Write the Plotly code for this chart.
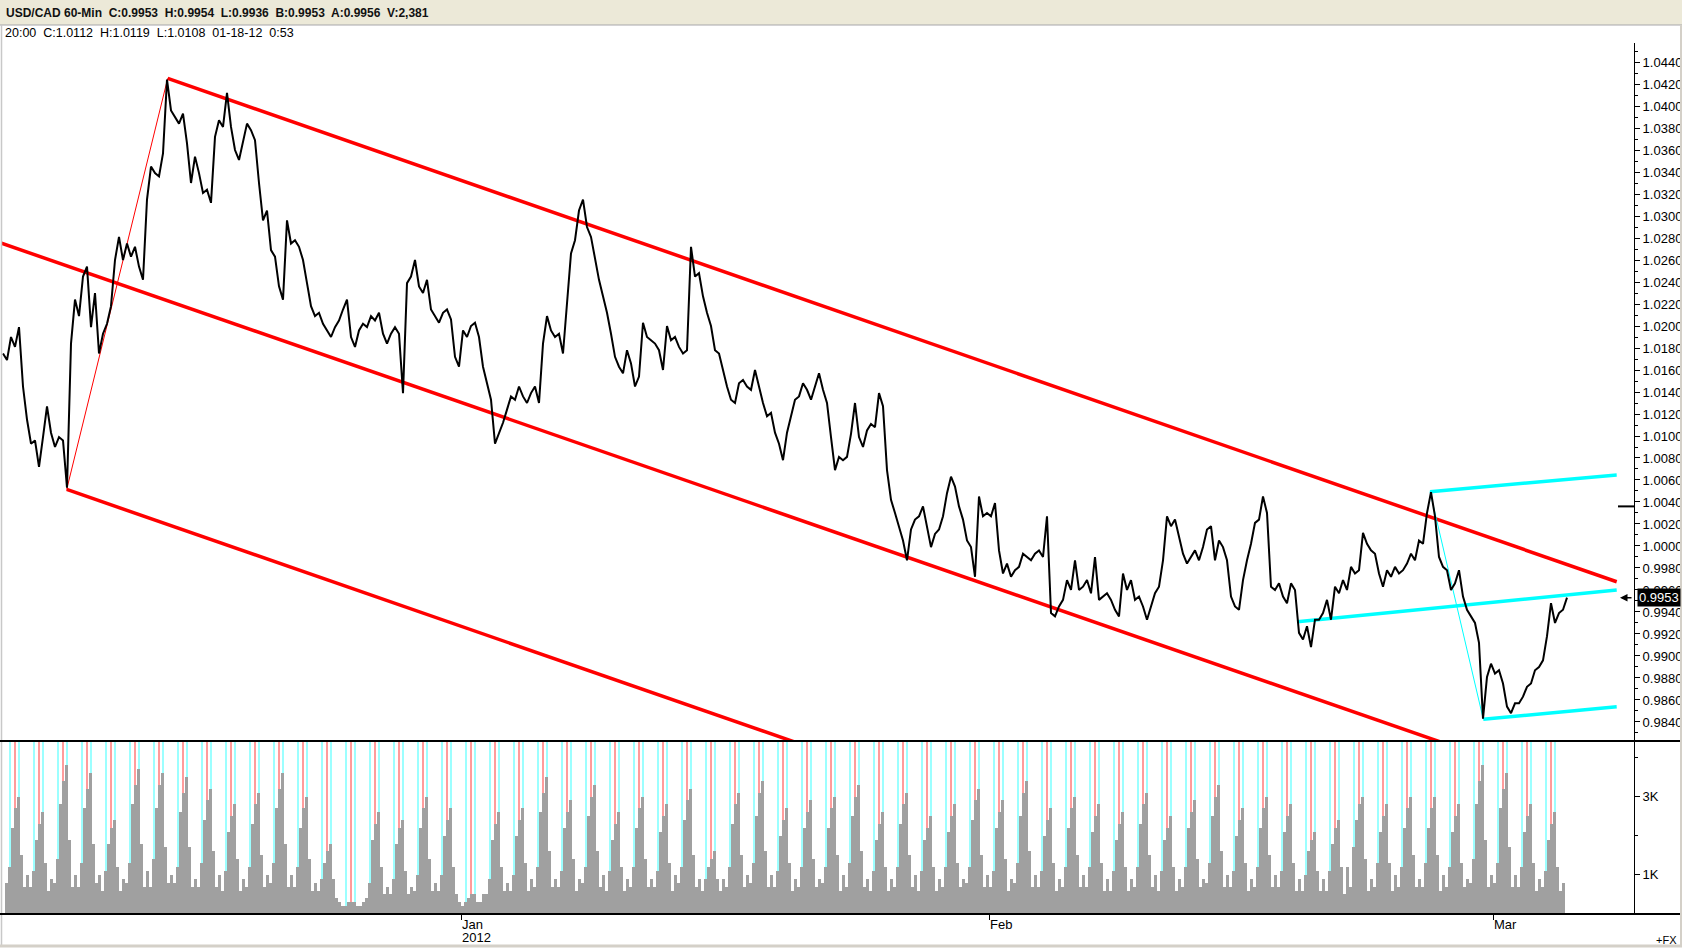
import pandas as pd
import plotly.graph_objects as go

# 60-min bars on a trading clock: t=0 is the first bar (Mon 5 Dec 2011 22:00),
# every weekday is 24 bars, weekends are skipped
TRADING_DAYS = pd.bdate_range("2011-12-06", "2012-03-05")
FIRST_DAY_T = 2
PRICE_STEP = 4   # close read every 4 bars
VOL_STEP = 3     # volume read in 3-bar buckets

price = [
    1.0175, 1.0169, 1.0190, 1.0181, 1.0199, 1.0145, 1.0115, 1.0093, 1.0096, 1.0072, 1.0099, 1.0127,
    1.0103, 1.0090, 1.0099, 1.0096, 1.0053, 1.0184, 1.0224, 1.0209, 1.0245, 1.0254, 1.0199, 1.0230,
    1.0175, 1.0193, 1.0202, 1.0218, 1.0260, 1.0281, 1.0260, 1.0275, 1.0263, 1.0272, 1.0254, 1.0242,
    1.0315, 1.0345, 1.0339, 1.0336, 1.0357, 1.0424, 1.0396, 1.0390, 1.0384, 1.0393, 1.0366, 1.0330,
    1.0354, 1.0339, 1.0321, 1.0324, 1.0312, 1.0372, 1.0387, 1.0381, 1.0412, 1.0381, 1.0360, 1.0351,
    1.0369, 1.0384, 1.0378, 1.0369, 1.0330, 1.0296, 1.0305, 1.0269, 1.0263, 1.0236, 1.0224, 1.0296,
    1.0275, 1.0278, 1.0272, 1.0260, 1.0239, 1.0218, 1.0209, 1.0212, 1.0202, 1.0196, 1.0190, 1.0199,
    1.0205, 1.0215, 1.0224, 1.0190, 1.0181, 1.0196, 1.0202, 1.0199, 1.0209, 1.0205, 1.0212, 1.0193,
    1.0184, 1.0193, 1.0199, 1.0193, 1.0139, 1.0239, 1.0245, 1.0260, 1.0236, 1.0230, 1.0242, 1.0215,
    1.0209, 1.0203, 1.0212, 1.0215, 1.0206, 1.0172, 1.0163, 1.0196, 1.0190, 1.0200, 1.0203, 1.0190,
    1.0163, 1.0148, 1.0133, 1.0093, 1.0103, 1.0112, 1.0124, 1.0136, 1.0133, 1.0145, 1.0136, 1.0130,
    1.0139, 1.0145, 1.0130, 1.0184, 1.0209, 1.0196, 1.0190, 1.0193, 1.0175, 1.0221, 1.0266, 1.0278,
    1.0305, 1.0315, 1.0290, 1.0281, 1.0260, 1.0242, 1.0227, 1.0212, 1.0193, 1.0172, 1.0163, 1.0157,
    1.0178, 1.0166, 1.0145, 1.0154, 1.0203, 1.0190, 1.0187, 1.0184, 1.0178, 1.0160, 1.0200, 1.0187,
    1.0190, 1.0181, 1.0175, 1.0178, 1.0272, 1.0245, 1.0248, 1.0227, 1.0212, 1.0200, 1.0178, 1.0175,
    1.0160, 1.0145, 1.0133, 1.0130, 1.0148, 1.0151, 1.0145, 1.0142, 1.0160, 1.0145, 1.0130, 1.0118,
    1.0121, 1.0103, 1.0093, 1.0078, 1.0103, 1.0118, 1.0133, 1.0136, 1.0148, 1.0142, 1.0133, 1.0145,
    1.0157, 1.0142, 1.0130, 1.0099, 1.0069, 1.0081, 1.0078, 1.0081, 1.0102, 1.0130, 1.0099, 1.0090,
    1.0105, 1.0111, 1.0108, 1.0139, 1.0127, 1.0069, 1.0042, 1.0030, 1.0018, 1.0005, 0.9987, 1.0015,
    1.0024, 1.0027, 1.0036, 1.0018, 0.9999, 1.0011, 1.0015, 1.0027, 1.0048, 1.0063, 1.0054, 1.0036,
    1.0024, 1.0005, 0.9999, 0.9972, 1.0045, 1.0027, 1.0030, 1.0027, 1.0039, 0.9996, 0.9975, 0.9984,
    0.9972, 0.9978, 0.9981, 0.9993, 0.9990, 0.9987, 0.9993, 0.9996, 0.9990, 1.0027, 0.9939, 0.9936,
    0.9945, 0.9951, 0.9969, 0.9960, 0.9987, 0.9960, 0.9963, 0.9969, 0.9957, 0.9990, 0.9951, 0.9954,
    0.9957, 0.9951, 0.9942, 0.9936, 0.9975, 0.9960, 0.9969, 0.9951, 0.9954, 0.9945, 0.9933, 0.9945,
    0.9957, 0.9963, 0.9987, 1.0027, 1.0018, 1.0024, 1.0008, 0.9993, 0.9984, 0.9990, 0.9996, 0.9987,
    0.9999, 1.0015, 1.0018, 0.9987, 1.0005, 0.9999, 0.9987, 0.9954, 0.9945, 0.9942, 0.9969, 0.9987,
    1.0002, 1.0021, 1.0024, 1.0045, 1.0030, 0.9963, 0.9960, 0.9966, 0.9954, 0.9948, 0.9966, 0.9960,
    0.9921, 0.9915, 0.9927, 0.9908, 0.9933, 0.9933, 0.9939, 0.9951, 0.9933, 0.9963, 0.9957, 0.9969,
    0.9960, 0.9981, 0.9975, 0.9978, 1.0012, 1.0002, 0.9996, 0.9993, 0.9975, 0.9963, 0.9978, 0.9972,
    0.9981, 0.9975, 0.9978, 0.9984, 0.9993, 0.9987, 1.0005, 1.0002, 1.0030, 1.0049, 1.0027, 0.9990,
    0.9981, 0.9978, 0.9960, 0.9966, 0.9978, 0.9954, 0.9942, 0.9936, 0.9930, 0.9912, 0.9843, 0.9881,
    0.9893, 0.9884, 0.9887, 0.9875, 0.9854, 0.9848, 0.9857, 0.9857, 0.9863, 0.9872, 0.9875, 0.9887,
    0.9890, 0.9896, 0.9918, 0.9948, 0.9930, 0.9939, 0.9942, 0.9953,
]

# volume per trading day, 8 buckets of 3 bars each, in hundreds
volume = [
    [8, 12, 22, 27, 30, 15, 7, 10], [7, 11, 19, 23, 26, 13, 6, 9], [8, 14, 28, 34, 38, 19, 7, 10],
    [7, 13, 27, 32, 36, 18, 8, 10], [6, 11, 18, 22, 24, 12, 6, 9], [8, 13, 28, 33, 37, 18, 7, 11],
    [7, 14, 27, 33, 36, 17, 8, 10], [8, 12, 26, 31, 35, 17, 7, 9], [7, 13, 24, 29, 32, 16, 7, 10],
    [6, 11, 21, 25, 28, 14, 6, 9], [7, 12, 23, 28, 31, 15, 7, 10], [8, 13, 27, 32, 36, 18, 7, 10],
    [7, 12, 22, 27, 30, 14, 6, 8], [6, 9, 13, 16, 18, 9, 4, 3], [2, 2, 3, 3, 3, 2, 2, 3],
    [4, 8, 19, 23, 26, 12, 5, 7], [5, 9, 18, 22, 24, 11, 5, 7], [6, 10, 22, 27, 30, 14, 6, 8],
    [6, 10, 20, 24, 27, 12, 5, 3], [2, 3, 4, 5, 5, 3, 3, 5], [5, 9, 19, 23, 26, 12, 6, 8],
    [6, 10, 20, 24, 27, 13, 6, 9], [7, 12, 26, 31, 35, 16, 7, 9], [7, 11, 22, 26, 29, 14, 6, 9],
    [8, 12, 25, 30, 33, 16, 7, 10], [6, 11, 19, 23, 26, 12, 6, 9], [7, 12, 22, 27, 30, 14, 7, 9],
    [7, 11, 21, 25, 28, 13, 6, 10], [8, 12, 24, 29, 32, 15, 7, 9], [6, 9, 12, 14, 16, 9, 6, 9],
    [7, 12, 23, 28, 31, 15, 7, 10], [8, 13, 25, 31, 34, 16, 7, 10], [7, 11, 20, 24, 27, 13, 6, 9],
    [7, 12, 22, 26, 29, 14, 7, 9], [8, 12, 22, 27, 30, 15, 6, 10], [7, 13, 25, 30, 33, 16, 7, 9],
    [6, 11, 19, 23, 26, 12, 6, 9], [7, 12, 23, 28, 31, 15, 7, 10], [6, 11, 19, 22, 25, 12, 6, 9],
    [7, 12, 21, 25, 28, 13, 7, 9], [8, 12, 24, 29, 32, 15, 7, 10], [7, 11, 22, 26, 29, 14, 6, 9],
    [8, 13, 25, 31, 34, 16, 7, 10], [7, 11, 20, 24, 27, 13, 6, 9], [7, 12, 22, 27, 30, 15, 7, 10],
    [7, 12, 21, 25, 28, 13, 6, 9], [6, 11, 19, 23, 26, 12, 6, 9], [7, 12, 23, 28, 31, 15, 7, 10],
    [6, 11, 19, 22, 25, 12, 6, 9], [7, 12, 22, 26, 29, 14, 7, 9], [8, 13, 25, 30, 33, 16, 7, 10],
    [7, 11, 20, 24, 27, 13, 6, 9], [7, 12, 22, 27, 30, 15, 7, 10], [7, 11, 21, 25, 28, 13, 6, 9],
    [6, 10, 16, 19, 21, 11, 6, 9], [6, 11, 18, 22, 24, 12, 5, 12], [7, 17, 24, 28, 30, 14, 6, 9],
    [7, 13, 21, 25, 28, 13, 6, 10], [7, 12, 22, 27, 30, 15, 7, 9], [7, 13, 22, 27, 30, 15, 6, 10],
    [7, 12, 21, 25, 28, 13, 7, 9], [8, 14, 28, 34, 38, 19, 7, 10], [8, 13, 27, 32, 36, 17, 7, 10],
    [7, 12, 21, 25, 28, 13, 6, 9], [7, 11, 19, 23, 26, 12, 6, 8],
]

# session marker bars inside each trading day
red_hours = [10]
cyan_hours = [5, 14]

month_starts = ["2012-01-02", "2012-02-01", "2012-03-01"]
month_labels = [("Jan", "2012"), ("Feb", ""), ("Mar", "")]

# hand drawn channel / pitchfork lines, (bar, price) anchors
red_upper = ([164.7, 1613.7], [1.04251, 0.99675])
red_middle = ([-20.0, 1613.7], [1.02811, 0.97663])
red_lower = ([63.7, 1613.7], [1.00514, 0.95625])
red_handle = ([63.7, 164.7], [1.00514, 1.04251])
cyan_upper = ([1427.0, 1613.7], [1.00494, 1.00645])
cyan_middle = ([1294.3, 1613.7], [0.99312, 0.99600])
cyan_lower = ([1480.3, 1613.7], [0.98424, 0.98539])
cyan_handle = ([1427.0, 1480.3], [1.00494, 0.98424])

last_price = 0.9953
prev_mark = 1.0036

W, H = 1682, 948
FONT = "Liberation Sans"
VOL_TOP = 4420


def fx(px):
    return px / W


def fy(py):
    return 1 - py / H


price_t = [i * PRICE_STEP for i in range(len(price))]
vol_t, vol_y = [], []
for d, row in enumerate(volume):
    for b, v in enumerate(row):
        vol_t.append(FIRST_DAY_T + 24 * d + VOL_STEP * b + VOL_STEP / 2)
        vol_y.append(v * 100)

month_t = [FIRST_DAY_T + 24 * TRADING_DAYS.get_loc(pd.Timestamp(m)) for m in month_starts]

fig = go.Figure()

fig.add_trace(go.Bar(x=vol_t, y=vol_y, width=VOL_STEP, xaxis="x2", yaxis="y2",
                     marker=dict(color="#A0A0A0", line=dict(width=0)), hoverinfo="skip"))

for line, color, w in [(red_upper, "#FF0000", 3.5), (red_middle, "#FF0000", 3.5),
                       (red_lower, "#FF0000", 3.5), (red_handle, "#FF0000", 1),
                       (cyan_upper, "#00FFFF", 3.5), (cyan_middle, "#00FFFF", 3.5),
                       (cyan_lower, "#00FFFF", 3.5), (cyan_handle, "#00FFFF", 1)]:
    fig.add_trace(go.Scatter(x=line[0], y=line[1], mode="lines",
                             line=dict(color=color, width=w), hoverinfo="skip"))

fig.add_trace(go.Scatter(x=price_t, y=price, mode="lines",
                         line=dict(color="black", width=2), hoverinfo="skip"))

axis_font = dict(family=FONT, size=13, color="black")

shapes = [
    dict(type="rect", xref="paper", yref="paper", x0=0, x1=1, y0=fy(25), y1=1,
         fillcolor="#ECE9D8", line=dict(width=0), layer="below"),
    dict(type="line", xref="paper", yref="paper", x0=0, x1=1, y0=fy(25), y1=fy(25),
         line=dict(color="#A7A6AA", width=1)),
    dict(type="line", xref="paper", yref="paper", x0=fx(1.5), x1=fx(1.5), y0=fy(25), y1=fy(946),
         line=dict(color="#C8C8C8", width=1.5)),
    dict(type="line", xref="paper", yref="paper", x0=fx(1681), x1=fx(1681), y0=fy(25), y1=fy(946),
         line=dict(color="#D4D0C8", width=2)),
    dict(type="line", xref="paper", yref="paper", x0=0, x1=1, y0=fy(946), y1=fy(946),
         line=dict(color="#D4D0C8", width=3)),
    dict(type="line", xref="paper", yref="paper", x0=0, x1=fx(1680), y0=fy(741), y1=fy(741),
         line=dict(color="black", width=2)),
    dict(type="line", xref="paper", yref="paper", x0=0, x1=fx(1680), y0=fy(914), y1=fy(914),
         line=dict(color="black", width=2)),
    dict(type="line", xref="x", yref="y", x0=1615, x1=1631, y0=prev_mark, y1=prev_mark,
         line=dict(color="black", width=2)),
]

# session markers sit behind the volume bars
for d in range(len(volume)):
    for hours, color in [(cyan_hours, "#9CFFFF"), (red_hours, "#FF9C9C")]:
        for h in hours:
            t = FIRST_DAY_T + 24 * d + h
            shapes.append(dict(type="line", xref="x2", yref="y2", x0=t, x1=t, y0=0, y1=VOL_TOP,
                               line=dict(color=color, width=2), layer="below"))

annotations = [
    dict(xref="paper", yref="paper", x=fx(4), y=fy(13), xanchor="left", yanchor="middle",
         showarrow=False,
         text="<b>USD/CAD 60-Min\u00a0 C:0.9953\u00a0 H:0.9954\u00a0 L:0.9936\u00a0 "
              "B:0.9953\u00a0 A:0.9956\u00a0 V:2,381</b>",
         font=dict(family=FONT, size=12, color="#111111")),
    dict(xref="paper", yref="paper", x=fx(3), y=fy(33), xanchor="left", yanchor="middle",
         showarrow=False, text="20:00\u00a0 C:1.0112\u00a0 H:1.0119\u00a0 L:1.0108\u00a0 01-18-12\u00a0 0:53",
         font=dict(family=FONT, size=12.5, color="black")),
    dict(xref="paper", yref="paper", x=fx(1679), y=fy(940), xanchor="right", yanchor="middle",
         showarrow=False, text="+FX", font=dict(family=FONT, size=11, color="black")),
    dict(xref="paper", yref="y", x=fx(1637), y=last_price, xanchor="left", yanchor="middle",
         showarrow=False, text=f"{last_price:.4f}", bgcolor="black", borderpad=1,
         font=dict(family=FONT, size=13, color="white")),
    dict(xref="x", yref="y", x=1617, y=last_price, ax=13, ay=0, text="", showarrow=True,
         arrowhead=2, arrowsize=1, arrowwidth=1.5, arrowcolor="black"),
]
for t, (top, bottom) in zip(month_t, month_labels):
    annotations.append(dict(xref="x2", yref="paper", x=t, y=fy(924), xanchor="left", yanchor="middle",
                            xshift=-1, showarrow=False, text=top, font=axis_font))
    if bottom:
        annotations.append(dict(xref="x2", yref="paper", x=t, y=fy(937), xanchor="left",
                                yanchor="middle", xshift=-1, showarrow=False, text=bottom,
                                font=axis_font))

fig.update_layout(
    width=W, height=H,
    margin=dict(l=0, r=0, t=0, b=0),
    paper_bgcolor="white", plot_bgcolor="white",
    showlegend=False, hovermode=False,
    bargap=0,
    xaxis=dict(domain=[fx(2), fx(1634)], range=[-1, 1631], anchor="y",
               showticklabels=False, showgrid=False, zeroline=False, showline=False),
    xaxis2=dict(domain=[fx(2), fx(1634)], range=[-1, 1631], anchor="y2", matches="x",
                tickmode="array", tickvals=month_t, showticklabels=False, ticks="outside",
                ticklen=5, tickcolor="black", showgrid=False, zeroline=False, showline=False),
    yaxis=dict(domain=[fy(741), fy(43)], range=[0.98227, 1.04573], anchor="x", side="right",
               tick0=1.0440, dtick=0.002, tickformat=".4f", ticks="outside", ticklen=5,
               tickcolor="black", minor=dict(dtick=0.001, ticks="outside", ticklen=3, tickcolor="black"),
               showline=True, linecolor="black", linewidth=1, showgrid=False, zeroline=False,
               tickfont=axis_font),
    yaxis2=dict(domain=[fy(914), fy(741)], range=[0, VOL_TOP], anchor="x2", side="right",
                tickmode="array", tickvals=[1000, 3000], ticktext=["1K", "3K"],
                ticks="outside", ticklen=5, tickcolor="black",
                minor=dict(tickmode="array", tickvals=[2000, 4000], ticks="outside", ticklen=3,
                           tickcolor="black"),
                showline=True, linecolor="black", linewidth=1, showgrid=False, zeroline=False,
                tickfont=axis_font),
    shapes=shapes,
    annotations=annotations,
)

# page has default body margin; drop it so the 1682x948 figure fills the window
fig.write_html("out.html", config={"displayModeBar": False},
               post_script="document.body.style.margin='0';document.body.style.overflow='hidden';")
